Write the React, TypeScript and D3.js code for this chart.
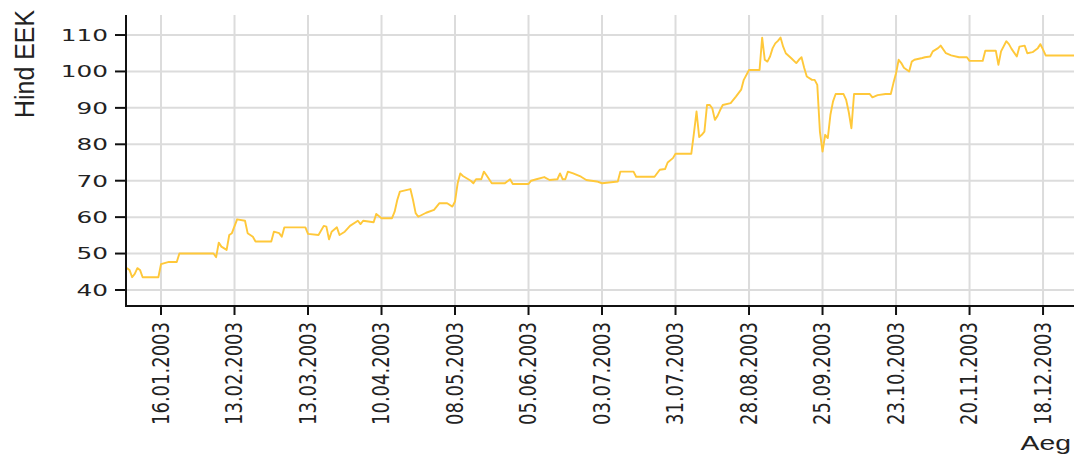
import * as d3 from 'd3';

// day of year (0 = 1 Jan 2003) and closing price
const dayOfYear = [
  2, 3, 4, 5, 6, 7, 8, 14, 15, 18, 21, 22, 35, 36, 37, 38, 40, 41, 42, 44, 47, 48, 50, 51, 57, 58, 60, 61, 62, 70,
  71, 75, 77, 78, 79, 80, 82, 83, 85, 87, 90, 91, 92, 96, 97, 99, 103, 104, 105, 106, 110, 111, 112, 113, 116, 119,
  121, 124, 126, 127, 128, 129, 130, 133, 134, 135, 137, 138, 139, 141, 146, 148, 149, 155, 156, 158, 161, 163, 166,
  167, 168, 169, 170, 172, 175, 177, 181, 183, 189, 190, 195, 196, 203, 205, 207, 208, 210, 211, 217, 218, 219, 220,
  221, 222, 223, 224, 225, 226, 227, 228, 229, 232, 234, 236, 237, 239, 243, 244, 245, 246, 247, 248, 249, 250, 251,
  252, 253, 255, 257, 258, 259, 260, 261, 263, 264, 265, 266, 267, 268, 269, 270, 271, 272, 275, 276, 277, 278, 279,
  285, 286, 288, 291, 293, 294, 295, 296, 297, 298, 300, 301, 302, 305, 306, 308, 309, 311, 312, 314, 316, 319, 322,
  323, 328, 329, 333, 334, 335, 337, 338, 339, 341, 342, 344, 345, 347, 349, 350, 351, 352, 363,
];

const prices = [
  46.0, 45.5, 43.5, 44.4, 46.0, 45.5, 43.5, 43.5, 47.1, 47.7, 47.7, 50.0, 50.0, 49.0, 53.0, 51.9, 51.0, 55.1, 55.6,
  59.4, 59.0, 55.6, 54.6, 53.3, 53.3, 56.0, 55.6, 54.6, 57.2, 57.2, 55.4, 55.1, 57.6, 57.4, 53.9, 56.0, 57.2, 55.1,
  56.0, 57.6, 59.0, 58.1, 59.0, 58.6, 60.9, 59.7, 59.7, 61.5, 64.7, 67.0, 67.7, 64.7, 61.1, 60.1, 61.2, 62.0, 63.8,
  63.8, 62.9, 64.3, 69.3, 72.0, 71.3, 70.0, 69.3, 70.4, 70.4, 72.5, 71.5, 69.3, 69.3, 70.4, 69.1, 69.1, 70.0, 70.4,
  71.0, 70.2, 70.4, 72.0, 70.4, 70.4, 72.5, 72.0, 71.1, 70.2, 69.8, 69.3, 69.8, 72.5, 72.5, 71.1, 71.1, 73.0, 73.2,
  75.0, 76.2, 77.4, 77.4, 83.0, 89.0, 82.0, 82.6, 83.5, 90.8, 90.8, 89.9, 86.7, 87.8, 89.4, 90.8, 91.3, 93.1, 95.0,
  97.7, 100.4, 100.4, 109.3, 103.2, 102.7, 104.1, 106.4, 107.7, 108.4, 109.3, 106.8, 105.0, 103.7, 102.3, 103.2,
  103.9, 101.0, 98.6, 97.7, 97.7, 96.3, 83.5, 78.0, 82.6, 81.7, 88.1, 91.8, 93.8, 93.8, 92.2, 88.8, 84.4, 93.8,
  93.8, 92.9, 93.5, 93.8, 93.8, 96.8, 99.5, 103.2, 102.3, 101.0, 100.0, 102.7, 103.2, 103.7, 103.9, 104.1, 105.5,
  106.4, 107.1, 105.0, 104.4, 103.9, 103.9, 102.9, 102.9, 105.7, 105.7, 101.8, 105.5, 108.3, 107.5, 106.2, 104.1,
  106.8, 107.1, 105.0, 105.3, 106.4, 107.5, 106.0, 104.4, 104.4,
];

const xTickLabels = [
  '16.01.2003', '13.02.2003', '13.03.2003', '10.04.2003', '08.05.2003', '05.06.2003', '03.07.2003',
  '31.07.2003', '28.08.2003', '25.09.2003', '23.10.2003', '20.11.2003', '18.12.2003',
];
const yTicks = [40, 50, 60, 70, 80, 90, 100, 110];

const W = 1074;
const H = 454;
const left = 126;
const right = 1074;
const top = 15;
const bottom = 306;

export default function App() {
  const parse = d3.timeParse('%d.%m.%Y');
  const start = new Date(2003, 0, 1);
  const points = dayOfYear.map((d, i) => ({ date: d3.timeDay.offset(start, d), v: prices[i] }));

  const x = d3
    .scaleTime()
    .domain([new Date(2003, 0, 2, 16), new Date(2003, 11, 29, 19)])
    .range([left, right]);
  const y = d3.scaleLinear().domain([35.6, 115.5]).range([bottom, top]);

  const line = d3
    .line<{ date: Date; v: number }>()
    .x((d) => x(d.date))
    .y((d) => y(d.v));

  const ticks = xTickLabels.map((s) => ({ s, x: x(parse(s) as Date) }));

  return (
    <svg
      width={W}
      height={H}
      style={{ position: 'absolute', left: 0, top: 0, background: '#fff' }}
    >
      {/* grid */}
      {yTicks.map((t) => (
        <line key={'gy' + t} x1={left} x2={right} y1={y(t)} y2={y(t)} stroke="#dcdcdc" strokeWidth={2} />
      ))}
      {ticks.map((t) => (
        <line key={'gx' + t.s} x1={t.x} x2={t.x} y1={top} y2={bottom} stroke="#dcdcdc" strokeWidth={2} />
      ))}

      <path d={line(points) ?? ''} fill="none" stroke="#ffc83a" strokeWidth={1.9} strokeLinejoin="round" />

      {/* axes */}
      <line x1={left} x2={left} y1={top} y2={bottom + 1} stroke="#111" strokeWidth={2} />
      <line x1={left - 1} x2={right} y1={bottom} y2={bottom} stroke="#111" strokeWidth={2} />

      {yTicks.map((t) => (
        <g key={'ty' + t}>
          <line x1={115} x2={left} y1={y(t)} y2={y(t)} stroke="#111" strokeWidth={2} />
          <text
            transform={`translate(108,${y(t)}) scale(1.5,1)`}
            textAnchor="end"
            dominantBaseline="central"
            fontFamily="DejaVu Sans, Verdana, sans-serif"
            fontSize={16.5}
            fill="#222"
          >
            {t}
          </text>
        </g>
      ))}

      {ticks.map((t) => (
        <g key={'tx' + t.s}>
          <line x1={t.x} x2={t.x} y1={bottom} y2={315} stroke="#111" strokeWidth={2} />
          <text
            transform={`translate(${t.x},322) scale(1.45,1) rotate(-90)`}
            textAnchor="end"
            dominantBaseline="central"
            fontFamily="DejaVu Sans, Verdana, sans-serif"
            fontSize={16}
            textLength={103}
            lengthAdjust="spacingAndGlyphs"
            fill="#222"
          >
            {t.s}
          </text>
        </g>
      ))}

      <text
        transform="translate(25,64) scale(1.45,1) rotate(-90)"
        textAnchor="middle"
        dominantBaseline="central"
        fontFamily="Liberation Sans, Arial, sans-serif"
        fontSize={19}
        textLength={108}
        lengthAdjust="spacingAndGlyphs"
        fill="#222"
      >
        Hind EEK
      </text>
      <text
        transform="translate(1071,450) scale(1.35,1)"
        textAnchor="end"
        fontFamily="Liberation Sans, Arial, sans-serif"
        fontSize={21}
        fill="#222"
      >
        Aeg
      </text>
    </svg>
  );
}
